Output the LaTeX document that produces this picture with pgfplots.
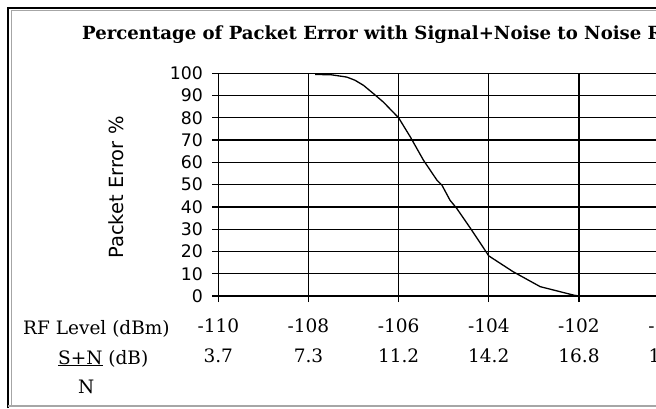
\documentclass[border=0pt]{standalone}
\usepackage{fontspec}
\setmainfont{DejaVu Serif}
\newfontfamily\dvsans{DejaVu Sans}
\usepackage{pgfplots}
\pgfplotsset{compat=1.18}
\begin{document}
\begin{tikzpicture}[x=1bp,y=1bp]
\path[use as bounding box] (0,0) rectangle (656,408);
\clip (0,0) rectangle (656,408);
\fill[white] (0,0) rectangle (656,408);
\begin{axis}[
  at={(218.3bp,112bp)}, anchor=south west,
  scale only axis, width=495.9bp, height=222.7bp,
  xmin=-110, xmax=-99, ymin=0, ymax=100,
  xtick={-110,-108,-106,-104,-102,-100},
  xticklabels={{-110\\3.7},{-108\\7.3},{-106\\11.2},{-104\\14.2},{-102\\16.8},{-100\\19.4}},
  ytick={0,10,...,100},
  tick pos=left, tick align=outside, major tick length=6bp,
  grid=major, grid style={black, line width=1.3bp},
  axis line style={black, line width=1.3bp},
  every tick/.style={black, line width=1.3bp},
  /pgf/number format/assume math mode=true,
  yticklabel style={font=\dvsans\fontsize{17.3bp}{20bp}\selectfont, xshift=-6bp},
  xticklabel style={font=\fontsize{18.5bp}{30bp}\selectfont, align=center, yshift=-13bp},
]
\addplot[black, line width=1.3bp] coordinates {
(-107.85,99.5) (-107.48,99.3) (-107.15,98.3) (-106.97,96.9) (-106.78,94.6)
(-106.56,90.9) (-106.34,87.1) (-106,80) (-105.74,71.4) (-105.45,61)
(-105.15,52) (-105.04,49.8) (-104.86,43) (-104.71,39.3) (-104.38,29.6)
(-104,18) (-103.46,10.9) (-102.86,4.2) (-102.12,0.4) (-102,0)
};
\end{axis}
% frame
\draw[black, line width=2.5bp] (8,0) -- (8,400) -- (656,400);
\draw[gray!70, line width=1bp] (11,2) -- (11,397) -- (656,397);
\draw[gray!70, line width=1.2bp] (8,2) -- (656,2);
% title
\node[anchor=base west, inner sep=0, font=\bfseries\fontsize{18.1bp}{22bp}\selectfont] at (82,369)
  {Percentage of Packet Error with Signal+Noise to Noise Ratio};
% y label
\node[rotate=90, anchor=base, inner sep=0, font=\dvsans\fontsize{19.5bp}{22bp}\selectfont] at (123,220.5)
  {Packet Error \%};
% row labels
\node[anchor=base west, inner sep=0, font=\fontsize{18.5bp}{22bp}\selectfont] at (23,74) {RF Level (dBm)};
\node[anchor=base west, inner sep=0, font=\fontsize{18.5bp}{22bp}\selectfont] at (58,44) {\underline{S+N} (dB)};
\node[anchor=base west, inner sep=0, font=\fontsize{18.5bp}{22bp}\selectfont] at (78,15) {N};
\end{tikzpicture}
\end{document}
